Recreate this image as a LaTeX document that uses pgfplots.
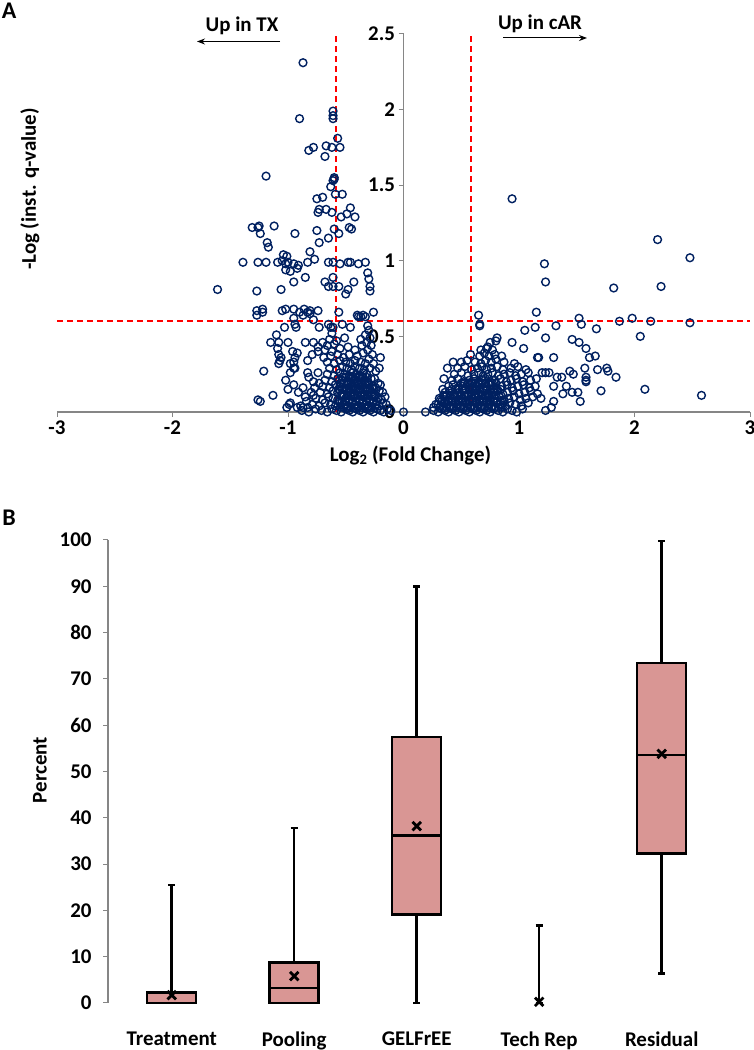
\documentclass[border=0pt]{standalone}
\usepackage{pgfplots}
\pgfplotsset{compat=1.18}
\usepgfplotslibrary{statistics}
\usetikzlibrary{arrows.meta}
\usepackage{fontspec}
\setmainfont{Carlito}

\definecolor{navy}{HTML}{002060}
\definecolor{boxred}{HTML}{D99694}
\definecolor{axgray}{HTML}{868686}
\definecolor{cutred}{HTML}{FF0000}

\newcommand{\bigbf}{\fontsize{21}{25}\selectfont\bfseries}

\begin{document}
\begin{tikzpicture}[x=1bp,y=1bp]
\path[use as bounding box] (0,0) rectangle (754,1050);

% panel letters and direction arrows
\node[font=\fontsize{24}{28}\selectfont\bfseries] at (9,1039) {A};
\node[font=\fontsize{24}{28}\selectfont\bfseries] at (9,532) {B};
\node[font=\bigbf] at (242,1024) {Up in TX};
\draw[-{Stealth[length=8bp,width=6bp]}, line width=1bp] (280,1008.5) -- (197,1008.5);
\node[font=\bigbf] at (540,1026) {Up in cAR};
\draw[-{Stealth[length=8bp,width=6bp]}, line width=1bp] (503,1012) -- (587,1012);

%% ---------- A: volcano plot ----------
\begin{axis}[
    at={(57bp,638bp)}, anchor=south west,
    scale only axis, width=693bp, height=378bp,
    xmin=-3, xmax=3, ymin=0, ymax=2.5,
    axis lines=middle,
    axis line style={axgray, line width=1.4bp, -},
    hide obscured x ticks=false, hide obscured y ticks=false,
    xtick={-3,-2,-1,0,1,2,3},
    ytick={0,0.5,1,1.5,2,2.5},
    tick style={axgray, line width=1bp},
    major tick length=5bp,
    xtick align=outside, ytick align=outside,
    tick label style={font=\bigbf},
    /pgf/number format/assume math mode=true,
    xlabel={Log\textsubscript{2} (Fold Change)},
    ylabel={-Log (inst. q-value)},
    xlabel style={at={(axis description cs:0.51,-0.116)}, anchor=center, font=\bigbf},
    ylabel style={at={(axis description cs:-0.039,0.59)}, rotate=90, anchor=center, font=\bigbf},
    clip=false,
]
% sparse points, left side
\addplot[only marks, mark=o, mark size=3.9bp, navy, mark options={line width=1.4bp}] coordinates {
(-0.87,2.31) (-0.90,1.94) (-0.61,1.99) (-0.61,1.96) (-0.61,1.94) (-0.57,1.81) (-0.82,1.73) (-0.78,1.75)
(-0.67,1.76) (-0.62,1.75) (-0.55,1.75) (-0.68,1.69) (-1.19,1.56) (-0.60,1.55) (-0.60,1.54) (-0.61,1.53)
(-0.63,1.49) (-0.59,1.44) (-0.53,1.44) (-0.75,1.41) (-0.70,1.42) (-0.73,1.34) (-0.74,1.32) (-0.67,1.34)
(-0.62,1.32) (-0.46,1.35) (-0.49,1.31) (-0.42,1.29) (-0.54,1.29) (-0.47,1.22) (-0.45,1.21)
(-1.31,1.22) (-1.26,1.22) (-1.25,1.23) (-1.24,1.18) (-1.12,1.23) (-0.94,1.18) (-1.18,1.12) (-1.17,1.09)
(-0.75,1.20) (-0.73,1.12) (-0.65,1.15) (-0.60,1.21) (-0.56,1.18) (-0.81,1.06) (-0.77,1.01)
(-1.39,0.99) (-1.26,0.99) (-1.19,0.99) (-1.09,0.99) (-1.05,1.00) (-1.02,0.98) (-1.00,0.99) (-0.95,0.98)
(-0.91,0.97) (-0.83,0.99) (-0.65,0.99) (-0.61,0.99) (-0.55,0.98) (-0.48,0.99) (-0.46,0.99) (-0.39,0.98)
(-0.33,0.99) (-1.04,1.04) (-1.01,1.03)
(-1.02,0.94) (-0.98,0.93) (-0.95,0.86) (-0.92,0.95) (-0.85,0.89)
(-0.68,0.86) (-0.61,0.89) (-0.65,0.83) (-0.61,0.83) (-0.56,0.83) (-0.50,0.78) (-0.43,0.86) (-0.48,0.81)
(-0.31,0.92) (-0.30,0.88) (-0.29,0.83) (-0.29,0.80) (-1.61,0.81) (-1.27,0.80) (-1.06,0.81)
(-1.27,0.67) (-1.22,0.68) (-1.22,0.66) (-1.05,0.67) (-1.02,0.68) (-0.95,0.68) (-0.90,0.66) (-0.86,0.68)
(-0.83,0.66) (-0.81,0.67) (-0.74,0.67) (-1.27,0.64) (-0.95,0.62) (-0.87,0.64) (-0.81,0.65)
(-0.56,0.66) (-0.40,0.64) (-0.37,0.63) (-0.26,0.66)
(-0.94,0.58) (-0.93,0.56) (-0.78,0.61) (-0.65,0.58) (-0.63,0.56) (-0.61,0.56) (-0.53,0.58) (-0.46,0.56)
(-0.39,0.63) (-0.35,0.64) (-0.33,0.63) (-1.03,0.56) (-0.73,0.56)
(-1.10,0.51) (-1.15,0.46) (-1.08,0.46) (-1.00,0.46) (-0.96,0.40) (-1.09,0.42) (-1.06,0.36) (-1.08,0.32)
(-0.95,0.33) (-0.95,0.29) (-0.85,0.46) (-0.78,0.46) (-0.74,0.43) (-0.70,0.46) (-1.21,0.27)
(-1.02,0.21) (-0.95,0.18) (-1.00,0.15) (-0.87,0.16) (-0.85,0.10) (-1.13,0.11) (-1.26,0.08) (-1.24,0.07)
(-0.99,0.05) (-0.98,0.06) (-1.01,0.03) (-0.89,0.04) (-0.83,0.03)
(-1.08,0.38) (-1.07,0.34) (-0.98,0.32) (-0.94,0.36) (-0.92,0.39) (-0.94,0.29) (-0.98,0.26)
(-0.68,0.41) (-0.69,0.36) (-0.74,0.40) (-0.79,0.38) (-0.83,0.34) (-0.83,0.26) (-0.82,0.23) (-0.78,0.20)
(-0.74,0.26) (-0.91,0.13) (-0.92,0.03) (-0.87,0.03)
(-0.62,0.52) (-0.64,0.48) (-0.60,0.45) (-0.66,0.44) (-0.62,0.40)
(-0.31,0.57) (-0.30,0.54) (-0.33,0.51) (-0.29,0.49) (-0.32,0.46) (-0.28,0.44) (-0.31,0.41) (-0.27,0.38)
(-0.30,0.35) (-0.26,0.32) (-0.29,0.29) (-0.24,0.27) (-0.25,0.22) (-0.22,0.19) (-0.20,0.36) (-0.21,0.29)
};
% dense cluster, left side
\addplot[only marks, mark=o, mark size=3.9bp, navy, mark options={line width=1.4bp}] coordinates {
(-0.88,0.01) (-0.82,0.00) (-0.76,0.02) (-0.71,0.01) (-0.66,0.00) (-0.62,0.02) (-0.58,0.01) (-0.54,0.00)
(-0.50,0.02) (-0.47,0.01) (-0.44,0.00) (-0.41,0.02) (-0.38,0.01) (-0.35,0.00) (-0.32,0.02) (-0.29,0.01)
(-0.26,0.00) (-0.23,0.02) (-0.20,0.01) (-0.17,0.00) (-0.14,0.02) (-0.11,0.01)
(-0.79,0.05) (-0.73,0.04) (-0.68,0.06) (-0.63,0.05) (-0.59,0.04) (-0.55,0.06) (-0.51,0.05) (-0.48,0.04)
(-0.45,0.06) (-0.42,0.05) (-0.39,0.04) (-0.36,0.06) (-0.33,0.05) (-0.30,0.04) (-0.27,0.06) (-0.24,0.05)
(-0.21,0.04) (-0.18,0.06) (-0.15,0.05)
(-0.76,0.09) (-0.70,0.08) (-0.65,0.10) (-0.61,0.09) (-0.57,0.08) (-0.53,0.10) (-0.50,0.09) (-0.47,0.08)
(-0.44,0.10) (-0.41,0.09) (-0.38,0.08) (-0.35,0.10) (-0.32,0.09) (-0.29,0.08) (-0.26,0.10) (-0.22,0.09)
(-0.19,0.08) (-0.16,0.10)
(-0.72,0.13) (-0.66,0.12) (-0.61,0.14) (-0.57,0.13) (-0.53,0.12) (-0.49,0.14) (-0.46,0.13) (-0.43,0.12)
(-0.40,0.14) (-0.37,0.13) (-0.34,0.12) (-0.31,0.14) (-0.28,0.13) (-0.25,0.12) (-0.21,0.14) (-0.18,0.13)
(-0.70,0.17) (-0.64,0.16) (-0.59,0.18) (-0.55,0.17) (-0.51,0.16) (-0.48,0.18) (-0.45,0.17) (-0.42,0.16)
(-0.39,0.18) (-0.36,0.17) (-0.33,0.16) (-0.30,0.18) (-0.27,0.17) (-0.24,0.16) (-0.20,0.18)
(-0.68,0.21) (-0.62,0.20) (-0.57,0.22) (-0.53,0.21) (-0.49,0.20) (-0.46,0.22) (-0.43,0.21) (-0.40,0.20)
(-0.37,0.22) (-0.34,0.21) (-0.31,0.20) (-0.28,0.22)
(-0.66,0.25) (-0.60,0.24) (-0.55,0.26) (-0.51,0.25) (-0.47,0.24) (-0.44,0.26) (-0.41,0.25) (-0.38,0.24)
(-0.35,0.26) (-0.32,0.25)
(-0.64,0.29) (-0.58,0.28) (-0.53,0.30) (-0.49,0.29) (-0.45,0.28) (-0.42,0.30) (-0.38,0.29) (-0.34,0.28)
(-0.66,0.33) (-0.60,0.32) (-0.55,0.34) (-0.50,0.33) (-0.46,0.32) (-0.42,0.34) (-0.37,0.33) (-0.33,0.32)
(-0.63,0.37) (-0.57,0.38) (-0.52,0.36) (-0.47,0.38) (-0.40,0.37) (-0.35,0.39)
(-0.55,0.42) (-0.48,0.43) (-0.42,0.41) (-0.36,0.44) (-0.58,0.47) (-0.51,0.49) (-0.37,0.48)
(-0.80,0.13) (-0.84,0.07) (-0.77,0.16) (-0.73,0.19) (-0.78,0.11)
(-0.545,0.03) (-0.515,0.03) (-0.485,0.03) (-0.455,0.03) (-0.425,0.03) (-0.395,0.03) (-0.365,0.03) (-0.335,0.03) (-0.305,0.03) (-0.275,0.03) (-0.245,0.03)
(-0.56,0.07) (-0.53,0.07) (-0.50,0.07) (-0.47,0.07) (-0.44,0.07) (-0.41,0.07) (-0.38,0.07) (-0.35,0.07) (-0.32,0.07) (-0.29,0.07) (-0.26,0.07) (-0.23,0.07)
(-0.545,0.11) (-0.515,0.11) (-0.485,0.11) (-0.455,0.11) (-0.425,0.11) (-0.395,0.11) (-0.365,0.11) (-0.335,0.11) (-0.305,0.11) (-0.275,0.11) (-0.245,0.11)
(-0.56,0.15) (-0.53,0.15) (-0.50,0.15) (-0.47,0.15) (-0.44,0.15) (-0.41,0.15) (-0.38,0.15) (-0.35,0.15) (-0.32,0.15) (-0.29,0.15) (-0.26,0.15)
(-0.545,0.19) (-0.515,0.19) (-0.485,0.19) (-0.455,0.19) (-0.425,0.19) (-0.395,0.19) (-0.365,0.19) (-0.335,0.19) (-0.305,0.19)
(-0.53,0.23) (-0.50,0.23) (-0.47,0.23) (-0.44,0.23) (-0.41,0.23) (-0.38,0.23) (-0.35,0.23) (-0.32,0.23)
};
% right side, sparse
\addplot[only marks, mark=o, mark size=3.9bp, navy, mark options={line width=1.4bp}] coordinates {
(0.94,1.41) (2.20,1.14) (2.48,1.02) (1.22,0.98) (1.23,0.86) (1.82,0.82) (2.23,0.83) (0.65,0.64)
(0.66,0.58) (0.66,0.57) (1.15,0.66) (1.52,0.62) (1.54,0.58) (1.87,0.60) (1.98,0.62) (2.14,0.60)
(2.48,0.59) (1.14,0.56) (1.32,0.57) (1.67,0.55) (2.05,0.50) (1.05,0.54)
(1.23,0.49) (1.46,0.48) (1.52,0.46) (1.58,0.42) (1.04,0.42) (0.94,0.46) (0.81,0.49) (0.75,0.46) (0.73,0.43)
(1.16,0.36) (1.17,0.36) (1.30,0.36) (1.61,0.36) (1.66,0.37)
(1.76,0.29) (1.77,0.27) (1.68,0.28) (1.57,0.29) (1.84,0.23) (1.71,0.14) (2.09,0.15) (2.58,0.11)
(1.53,0.07) (1.46,0.13) (1.51,0.13) (1.58,0.23) (1.58,0.21) (1.58,0.20)
(1.44,0.27) (1.47,0.25) (1.37,0.23) (1.33,0.23) (1.41,0.17) (1.38,0.12) (1.30,0.17) (1.30,0.07)
(1.28,0.03) (1.23,0.01) (1.19,0.09) (1.23,0.26) (1.26,0.26) (1.20,0.26)
(0,0) (0.19,0) (0.26,0.03) (0.30,0.05) (0.32,0.08) (0.34,0.15) (0.35,0.22) (0.38,0.29) (0.43,0.33)
};
% right side, dense cluster
\addplot[only marks, mark=o, mark size=3.9bp, navy, mark options={line width=1.4bp}] coordinates {
(0.26,0.01) (0.30,0.00) (0.33,0.02) (0.36,0.01) (0.39,0.00) (0.42,0.02) (0.45,0.01) (0.48,0.00)
(0.51,0.02) (0.54,0.01) (0.57,0.00) (0.60,0.02) (0.63,0.01) (0.66,0.00) (0.69,0.02) (0.72,0.01)
(0.75,0.00) (0.78,0.02) (0.82,0.01) (0.86,0.00) (0.90,0.02) (0.94,0.01) (0.98,0.00) (1.03,0.02)
(0.28,0.05) (0.32,0.04) (0.35,0.06) (0.38,0.05) (0.41,0.04) (0.44,0.06) (0.47,0.05) (0.50,0.04)
(0.53,0.06) (0.56,0.05) (0.59,0.04) (0.62,0.06) (0.65,0.05) (0.68,0.04) (0.71,0.06) (0.74,0.05)
(0.77,0.04) (0.80,0.06) (0.84,0.05) (0.88,0.04) (0.92,0.06) (0.97,0.05) (1.02,0.04) (1.08,0.06)
(0.31,0.09) (0.35,0.10) (0.39,0.08) (0.42,0.09) (0.45,0.10) (0.48,0.08) (0.51,0.09) (0.54,0.10)
(0.57,0.08) (0.60,0.09) (0.63,0.10) (0.66,0.08) (0.69,0.09) (0.72,0.10) (0.75,0.08) (0.79,0.09)
(0.83,0.10) (0.87,0.08) (0.91,0.09) (0.96,0.10) (1.01,0.08) (1.06,0.09) (1.12,0.10)
(0.36,0.13) (0.40,0.14) (0.44,0.12) (0.48,0.13) (0.52,0.14) (0.56,0.12) (0.59,0.13) (0.62,0.14)
(0.65,0.12) (0.68,0.13) (0.71,0.14) (0.74,0.12) (0.78,0.13) (0.82,0.14) (0.86,0.12) (0.90,0.13)
(0.95,0.14) (1.00,0.12) (1.05,0.13) (1.10,0.14) (1.16,0.12)
(0.39,0.17) (0.43,0.18) (0.47,0.16) (0.51,0.17) (0.55,0.18) (0.59,0.16) (0.63,0.17) (0.66,0.18)
(0.69,0.16) (0.72,0.17) (0.76,0.18) (0.80,0.16) (0.85,0.17) (0.90,0.18) (0.94,0.16) (0.99,0.17)
(1.04,0.18) (1.09,0.16) (1.14,0.17)
(0.42,0.21) (0.47,0.22) (0.52,0.20) (0.57,0.21) (0.61,0.22) (0.65,0.20) (0.68,0.21) (0.71,0.22)
(0.75,0.20) (0.79,0.21) (0.84,0.22) (0.89,0.20) (0.93,0.21) (0.98,0.22) (1.03,0.20) (1.10,0.21) (1.15,0.22)
(0.44,0.25) (0.50,0.26) (0.56,0.24) (0.61,0.25) (0.65,0.26) (0.69,0.24) (0.73,0.25) (0.77,0.26)
(0.82,0.24) (0.87,0.25) (0.92,0.26) (0.97,0.24) (1.02,0.25) (1.08,0.26)
(0.47,0.29) (0.53,0.30) (0.59,0.28) (0.64,0.29) (0.68,0.30) (0.72,0.28) (0.76,0.29) (0.81,0.30)
(0.86,0.28) (0.93,0.29) (0.99,0.30) (1.06,0.28)
(0.50,0.33) (0.55,0.34) (0.62,0.33) (0.67,0.32) (0.71,0.34) (0.76,0.33) (0.80,0.35) (0.87,0.33) (0.96,0.32)
(0.58,0.38) (0.66,0.37) (0.70,0.39) (0.74,0.37) (0.79,0.38) (0.85,0.37)
(0.67,0.41) (0.72,0.42) (0.77,0.41) (0.80,0.47)
(0.315,0.03) (0.345,0.03) (0.375,0.03) (0.405,0.03) (0.435,0.03) (0.465,0.03) (0.495,0.03) (0.525,0.03) (0.555,0.03) (0.585,0.03)
(0.615,0.03) (0.645,0.03) (0.675,0.03) (0.705,0.03) (0.735,0.03) (0.765,0.03) (0.795,0.03) (0.825,0.03) (0.855,0.03)
(0.33,0.07) (0.36,0.07) (0.39,0.07) (0.42,0.07) (0.45,0.07) (0.48,0.07) (0.51,0.07) (0.54,0.07) (0.57,0.07) (0.60,0.07)
(0.63,0.07) (0.66,0.07) (0.69,0.07) (0.72,0.07) (0.75,0.07) (0.78,0.07) (0.81,0.07) (0.84,0.07) (0.87,0.07)
(0.345,0.11) (0.375,0.11) (0.405,0.11) (0.435,0.11) (0.465,0.11) (0.495,0.11) (0.525,0.11) (0.555,0.11) (0.585,0.11)
(0.615,0.11) (0.645,0.11) (0.675,0.11) (0.705,0.11) (0.735,0.11) (0.765,0.11) (0.795,0.11) (0.825,0.11)
(0.42,0.15) (0.45,0.15) (0.48,0.15) (0.51,0.15) (0.54,0.15) (0.57,0.15) (0.60,0.15) (0.63,0.15) (0.66,0.15) (0.69,0.15)
(0.72,0.15) (0.75,0.15) (0.78,0.15) (0.81,0.15) (0.84,0.15)
(0.50,0.19) (0.53,0.19) (0.56,0.19) (0.59,0.19) (0.62,0.19) (0.65,0.19) (0.68,0.19) (0.71,0.19) (0.74,0.19) (0.77,0.19) (0.80,0.19)
};
% thresholds
\addplot[color=cutred, line width=1.8bp, dash pattern=on 6bp off 4bp] coordinates {(-0.585,0) (-0.585,2.5)};
\addplot[color=cutred, line width=1.8bp, dash pattern=on 6bp off 4bp] coordinates {(0.585,0) (0.585,2.5)};
\addplot[color=cutred, line width=1.8bp, dash pattern=on 6bp off 4bp] coordinates {(-3,0.6) (3,0.6)};
\end{axis}

%% ---------- B: box plots ----------
\begin{axis}[
    at={(108bp,47bp)}, anchor=south west,
    scale only axis, width=612.5bp, height=463bp,
    xmin=-0.52, xmax=4.48, ymin=0, ymax=100,
    axis x line*=bottom, axis y line*=left,
    x axis line style={draw=none},
    y axis line style={axgray, line width=1.4bp, -},
    xtick={0,1,2,3,4},
    xticklabels={Treatment,Pooling,GELFrEE,Tech Rep,Residual},
    xtick style={draw=none},
    ytick={0,10,...,100},
    ytick style={axgray, line width=1bp},
    ytick align=outside, major tick length=5bp,
    tick label style={font=\bigbf},
    /pgf/number format/assume math mode=true,
    xticklabel style={yshift=-25bp},
    yticklabel style={xshift=-8bp},
    ylabel={Percent},
    ylabel style={at={(axis description cs:-0.111,0.503)}, anchor=center, font=\bigbf},
    boxplot/draw direction=y,
    boxplot/box extend=0.4,
    boxplot/whisker extend=0.06,
    boxplot/every box/.style={fill=boxred, draw=black},
    clip=false,
]
\addplot[black, line width=2.5bp, boxplot prepared={draw position=0,
    lower whisker=0, lower quartile=0, median=0, upper quartile=2.3, upper whisker=25.5}] coordinates {};
\addplot[black, line width=2.5bp, boxplot prepared={draw position=1,
    lower whisker=0, lower quartile=0, median=3.2, upper quartile=8.8, upper whisker=37.8}] coordinates {};
\addplot[black, line width=2.5bp, boxplot prepared={draw position=2,
    lower whisker=0, lower quartile=19.1, median=36.2, upper quartile=57.4, upper whisker=90.0}] coordinates {};
\addplot[black, line width=2.5bp, boxplot prepared={draw position=3, box extend=0.001,
    lower whisker=0, lower quartile=0, median=0, upper quartile=0, upper whisker=16.7}] coordinates {};
\addplot[black, line width=2.5bp, boxplot prepared={draw position=4,
    lower whisker=6.4, lower quartile=32.3, median=53.6, upper quartile=73.4, upper whisker=99.8}] coordinates {};
% means
\addplot[only marks, black, mark=x, mark size=6bp, mark options={line width=2.8bp}] coordinates {
(0,1.7) (1,5.8) (2,38.2) (3,0.26) (4,53.8)};
\end{axis}
\end{tikzpicture}
\end{document}
